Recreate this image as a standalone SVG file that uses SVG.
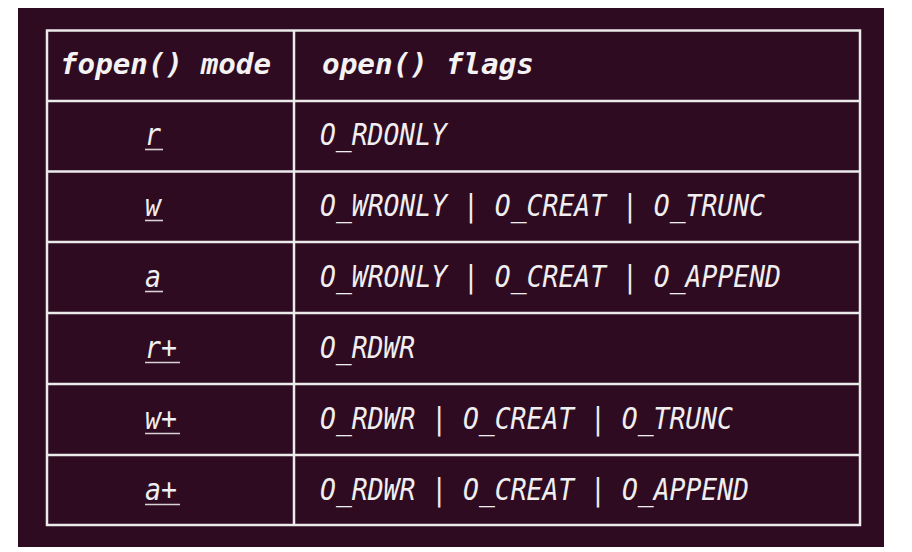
<svg xmlns="http://www.w3.org/2000/svg" width="912" height="552" viewBox="0 0 912 552">
<style>
.grid{stroke:#ecebec;stroke-width:2.5;fill:none}
.hd{font-family:"DejaVu Sans Mono","Liberation Mono",monospace;font-style:oblique;font-weight:bold;font-size:29px;fill:#f4f2f3}
.tx{font-family:"DejaVu Sans Mono","Liberation Mono",monospace;font-style:oblique;font-size:30px;fill:#f0eef0}
.ul{stroke:#d8d2d6;stroke-width:1.6}
</style>
<rect x="0" y="0" width="912" height="552" fill="#ffffff"/>
<rect x="18" y="8" width="866" height="539" fill="#2e0b20"/>
<g id="connectors">
<rect class="grid" x="47" y="30.5" width="813" height="494.5"/>
<line class="grid" x1="294" y1="30.5" x2="294" y2="525"/>
<line class="grid" x1="47" y1="101" x2="860" y2="101"/>
<line class="grid" x1="47" y1="171.5" x2="860" y2="171.5"/>
<line class="grid" x1="47" y1="242" x2="860" y2="242"/>
<line class="grid" x1="47" y1="313" x2="860" y2="313"/>
<line class="grid" x1="47" y1="384" x2="860" y2="384"/>
<line class="grid" x1="47" y1="455" x2="860" y2="455"/>
</g>
<g id="header">
<text class="hd" x="60" y="74" textLength="211" lengthAdjust="spacingAndGlyphs">fopen() mode</text>
<text class="hd" x="322" y="74" textLength="212" lengthAdjust="spacingAndGlyphs">open() flags</text>
</g>
<g id="row-r">
<text class="tx" x="145" y="145" textLength="16" lengthAdjust="spacingAndGlyphs">r</text>
<line class="ul" x1="145" y1="149.5" x2="163" y2="149.5"/>
<text class="tx" x="320" y="145" textLength="127" lengthAdjust="spacingAndGlyphs">O_RDONLY</text>
</g>
<g id="row-w">
<text class="tx" x="145" y="216" textLength="16" lengthAdjust="spacingAndGlyphs">w</text>
<line class="ul" x1="145" y1="220.5" x2="163" y2="220.5"/>
<text class="tx" x="320" y="216" textLength="445" lengthAdjust="spacingAndGlyphs">O_WRONLY | O_CREAT | O_TRUNC</text>
</g>
<g id="row-a">
<text class="tx" x="145" y="287" textLength="16" lengthAdjust="spacingAndGlyphs">a</text>
<line class="ul" x1="145" y1="291.5" x2="163" y2="291.5"/>
<text class="tx" x="320" y="287" textLength="461" lengthAdjust="spacingAndGlyphs">O_WRONLY | O_CREAT | O_APPEND</text>
</g>
<g id="row-rplus">
<text class="tx" x="145" y="358" textLength="32" lengthAdjust="spacingAndGlyphs">r+</text>
<line class="ul" x1="145" y1="362.5" x2="180" y2="362.5"/>
<text class="tx" x="320" y="358" textLength="95" lengthAdjust="spacingAndGlyphs">O_RDWR</text>
</g>
<g id="row-wplus">
<text class="tx" x="145" y="429" textLength="32" lengthAdjust="spacingAndGlyphs">w+</text>
<line class="ul" x1="145" y1="433.5" x2="180" y2="433.5"/>
<text class="tx" x="320" y="429" textLength="413" lengthAdjust="spacingAndGlyphs">O_RDWR | O_CREAT | O_TRUNC</text>
</g>
<g id="row-aplus">
<text class="tx" x="145" y="500" textLength="32" lengthAdjust="spacingAndGlyphs">a+</text>
<line class="ul" x1="145" y1="504.5" x2="180" y2="504.5"/>
<text class="tx" x="320" y="500" textLength="429" lengthAdjust="spacingAndGlyphs">O_RDWR | O_CREAT | O_APPEND</text>
</g>
</svg>
